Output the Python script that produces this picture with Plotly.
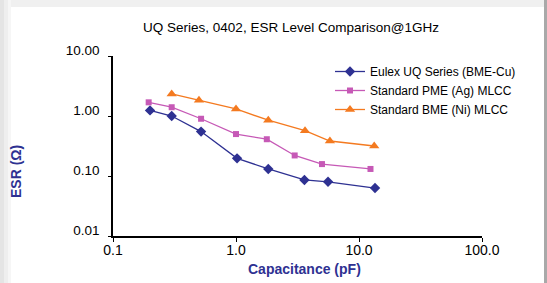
import plotly.graph_objects as go

# Data
cap_uq = [0.2, 0.3, 0.52, 1.02, 1.83, 3.6, 5.6, 13.5]
esr_uq = [1.24, 1.0, 0.55, 0.197, 0.131, 0.086, 0.080, 0.063]

cap_pme = [0.195, 0.3, 0.52, 1.0, 1.78, 3.0, 5.0, 12.4]
esr_pme = [1.69, 1.40, 0.90, 0.50, 0.41, 0.22, 0.158, 0.131]

cap_bme = [0.3, 0.5, 1.0, 1.83, 3.64, 5.8, 13.3]
esr_bme = [2.33, 1.83, 1.31, 0.85, 0.57, 0.383, 0.316]

names = ["Eulex UQ Series (BME-Cu)", "Standard PME (Ag) MLCC", "Standard BME (Ni) MLCC"]
colors = ["#2e3192", "#c659b6", "#f47a20"]

x_tickvals = [0.1, 1, 10, 100]
x_ticktext = ["0.1", "1.0", "10.0", "100.0"]
y_tickvals = [0.01, 0.1, 1, 10]
y_ticktext = ["0.01", "0.10", "1.00", "10.00"]

W, H = 547, 283
L, R, T, B = 113, 65, 56, 47
pw, ph = W - L - R, H - T - B

def px(x):
    return (x - L) / pw

def py(y):
    return (H - B - y) / ph

fig = go.Figure()
fig.add_trace(go.Scatter(x=cap_uq, y=esr_uq, name=names[0], mode="lines+markers",
                         line=dict(color=colors[0], width=1.3),
                         marker=dict(symbol="diamond", size=8, color=colors[0])))
fig.add_trace(go.Scatter(x=cap_pme, y=esr_pme, name=names[1], mode="lines+markers",
                         line=dict(color=colors[1], width=1.3),
                         marker=dict(symbol="square", size=6, color=colors[1])))
fig.add_trace(go.Scatter(x=cap_bme, y=esr_bme, name=names[2], mode="lines+markers",
                         line=dict(color=colors[2], width=1.3),
                         marker=dict(symbol="triangle-up", size=9, color=colors[2])))

shapes = [
    # card background shadow strips
    dict(type="rect", xref="paper", yref="paper", x0=px(0), x1=px(4), y0=py(H), y1=py(0),
         fillcolor="#e4e4e4", line_width=0, layer="above"),
    dict(type="rect", xref="paper", yref="paper", x0=px(4), x1=px(8), y0=py(H), y1=py(0),
         fillcolor="#eeeeee", line_width=0, layer="above"),
    dict(type="rect", xref="paper", yref="paper", x0=px(8), x1=px(11), y0=py(H), y1=py(0),
         fillcolor="#f6f6f6", line_width=0, layer="above"),
    dict(type="rect", xref="paper", yref="paper", x0=px(11), x1=px(544), y0=py(7), y1=py(0),
         fillcolor="#f0f0f0", line_width=0, layer="above"),
    dict(type="rect", xref="paper", yref="paper", x0=px(544), x1=px(W), y0=py(H), y1=py(0),
         fillcolor="#a9a9a9", line_width=0, layer="above"),
]

fig.update_layout(
    template="none",
    width=W, height=H,
    margin=dict(l=L, r=R, t=T, b=B, pad=0),
    paper_bgcolor="white", plot_bgcolor="white",
    font=dict(family="Liberation Sans, Arial, sans-serif", color="black"),
    shapes=shapes,
    title=dict(text="UQ Series, 0402, ESR Level Comparison@1GHz",
               x=px(291), xref="paper", xanchor="center",
               y=1 - 27 / H, yref="container", yanchor="middle",
               font=dict(size=13.5, color="black")),
    showlegend=True,
    legend=dict(x=px(330), y=py(57), xanchor="left", yanchor="top",
                bgcolor="rgba(0,0,0,0)", borderwidth=0, font=dict(size=12, color="black"),
                itemwidth=30, tracegroupgap=0),
    xaxis=dict(type="log", range=[-1, 2], tickvals=x_tickvals, ticktext=x_ticktext,
               showgrid=False, zeroline=False, showline=True, linecolor="black", linewidth=1.5,
               ticks="outside", ticklen=4, tickcolor="black", tickfont=dict(size=14),
               ticklabelstandoff=-4, automargin=False),
    yaxis=dict(type="log", range=[-2, 1], tickvals=y_tickvals, ticktext=y_ticktext,
               showgrid=False, zeroline=False, showline=True, linecolor="black", linewidth=1.5,
               ticks="outside", ticklen=3, tickcolor="black", tickfont=dict(size=13.5),
               ticklabelstandoff=6, ticklabelshift=-6, automargin=False),
    annotations=[
        dict(text="<b>Capacitance (pF)</b>", xref="paper", yref="paper",
             x=px(304), y=py(269), xanchor="center", yanchor="middle", showarrow=False,
             font=dict(size=14, color="#2e3192")),
        dict(text="<b>ESR (Ω)</b>", xref="paper", yref="paper",
             x=px(16), y=py(172), xanchor="center", yanchor="middle", showarrow=False,
             textangle=-90, font=dict(size=14, color="#2e3192")),
    ],
)

fig.write_html("out.html", config={"displayModeBar": False},
               post_script="document.body.style.margin='0';")
